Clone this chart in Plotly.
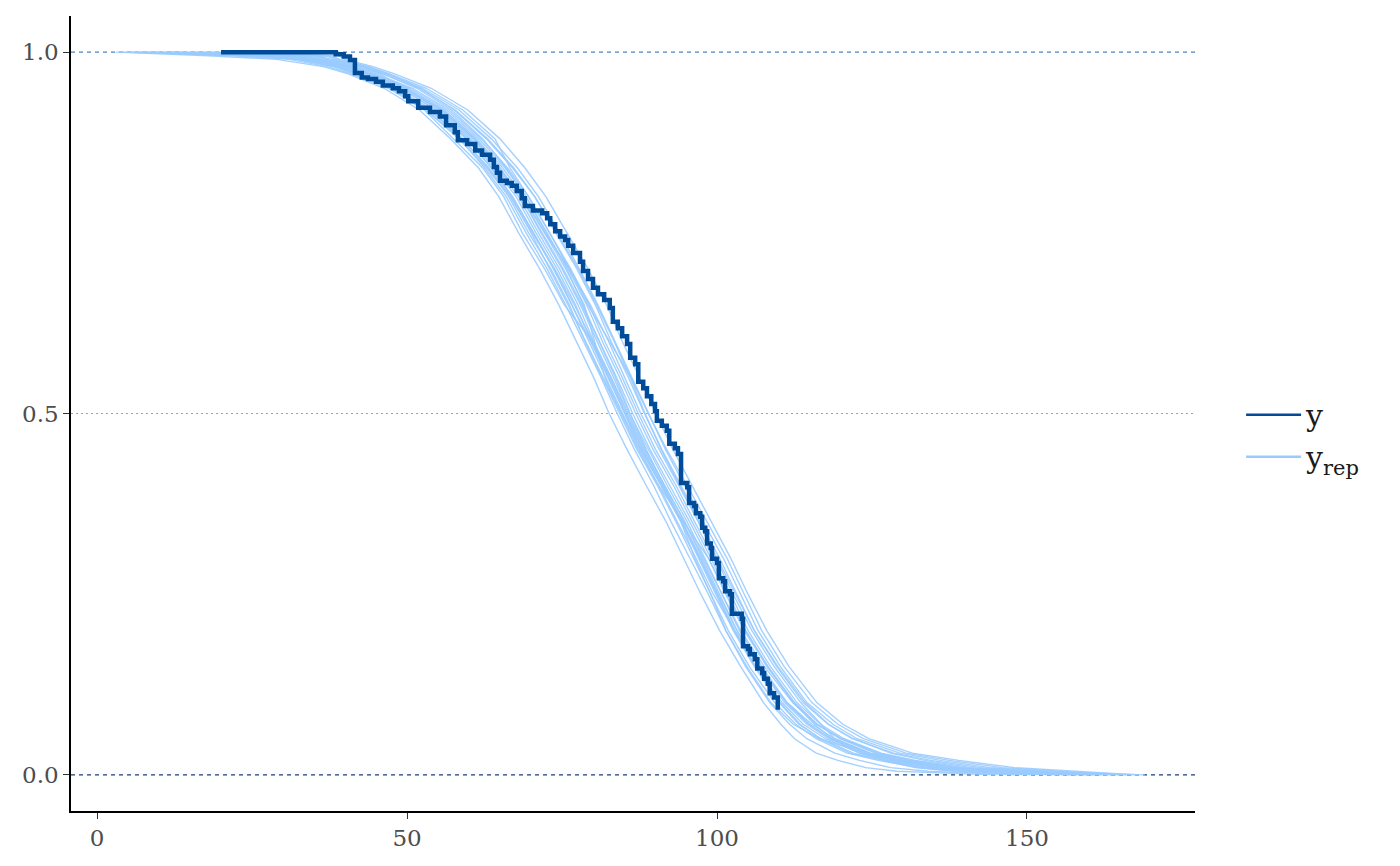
import plotly.graph_objects as go

# Observed Kaplan-Meier curve (y): step times and survival after each step
y_time = [20.0, 38.5, 39.8, 40.8, 41.6, 42.7, 43.7, 45.0, 46.1, 47.7, 48.7, 49.7, 50.2, 51.8,
          53.7, 55.3, 56.3, 57.7, 58.2, 59.7, 61.0, 62.1, 63.4, 64.0, 64.5, 65.0, 66.1, 66.9,
          67.7, 68.5, 69.0, 70.3, 71.8, 72.6, 73.1, 73.9, 74.7, 75.5, 76.0, 76.8, 77.9, 78.4,
          79.2, 80.0, 80.8, 81.8, 82.7, 83.2, 84.0, 84.7, 85.5, 86.0, 86.8, 87.3, 88.1, 88.7,
          89.4, 90.0, 90.3, 91.1, 91.9, 92.3, 93.2, 93.7, 94.2, 95.2, 95.5, 96.3, 96.6, 97.3,
          97.6, 98.1, 98.4, 99.0, 99.2, 100.0, 100.3, 101.0, 101.3, 102.1, 102.4, 104.0, 104.2,
          105.0, 105.3, 106.1, 106.5, 107.3, 107.6, 108.2, 108.5, 109.2, 109.8]
y_surv = [1.0, 0.997, 0.994, 0.989, 0.971, 0.965, 0.963, 0.959, 0.954, 0.950, 0.946, 0.939,
          0.932, 0.923, 0.917, 0.911, 0.899, 0.889, 0.878, 0.873, 0.864, 0.858, 0.851, 0.841,
          0.833, 0.822, 0.819, 0.815, 0.808, 0.798, 0.787, 0.781, 0.777, 0.770, 0.762, 0.752,
          0.745, 0.740, 0.732, 0.722, 0.710, 0.697, 0.686, 0.674, 0.665, 0.657, 0.646, 0.627,
          0.618, 0.607, 0.596, 0.577, 0.568, 0.544, 0.535, 0.524, 0.513, 0.503, 0.490, 0.483,
          0.476, 0.458, 0.452, 0.444, 0.404, 0.398, 0.376, 0.372, 0.362, 0.357, 0.342, 0.337,
          0.320, 0.314, 0.299, 0.293, 0.272, 0.268, 0.254, 0.250, 0.223, 0.216, 0.178, 0.174,
          0.167, 0.160, 0.147, 0.141, 0.133, 0.126, 0.113, 0.107, 0.090]

# Replicated curves (y_rep): survival levels and the time at which each replicate reaches them
rep_levels = [1.0, 0.995, 0.99, 0.98, 0.97, 0.95, 0.92, 0.88, 0.84, 0.80, 0.75, 0.70, 0.65,
              0.60, 0.55, 0.50, 0.45, 0.40, 0.35, 0.30, 0.25, 0.20, 0.15, 0.10, 0.07, 0.05,
              0.03, 0.02, 0.01, 0.005, 0.0]
rep_01 = [3, 18, 29, 36.5, 40.5, 46.3, 52.0, 57.0, 61.5, 64.8, 68.0, 71.4, 74.5, 77.3, 80.1, 82.6, 85.5, 88.6, 91.8, 94.6, 97.4, 100.4, 103.8, 107.5, 110.3, 112.5, 116.0, 119.5, 124.0, 129.0, 145.0]
rep_02 = [6, 22, 31, 37.2, 41.0, 47.0, 52.8, 57.5, 62.2, 65.6, 68.6, 72.2, 75.4, 79.9, 82.5, 85.1, 87.7, 91.0, 94.2, 96.4, 99.0, 101.4, 104.6, 108.5, 111.7, 114.5, 119.0, 123.0, 128.0, 134.0, 148.0]
rep_03 = [4, 26, 32, 38.0, 41.5, 47.5, 53.0, 58.5, 62.5, 66.0, 69.2, 72.6, 75.6, 78.5, 81.3, 83.9, 86.7, 89.8, 92.6, 95.6, 98.6, 101.4, 104.8, 108.7, 112.3, 116.5, 124.0, 129.0, 135.0, 141.0, 156.0]
rep_04 = [9, 24, 33, 38.4, 42.0, 47.7, 53.8, 59.0, 63.0, 66.4, 69.6, 73.2, 76.2, 78.7, 81.5, 84.3, 87.1, 90.4, 93.4, 96.2, 99.0, 101.8, 105.2, 109.3, 112.7, 116.0, 121.0, 126.0, 132.5, 139.0, 155.0]
rep_05 = [5, 27, 33.5, 39.0, 42.6, 48.3, 54.2, 59.6, 63.6, 67.0, 70.4, 73.8, 76.6, 79.3, 82.1, 84.7, 87.5, 90.6, 94.6, 98.6, 101.6, 104.6, 108.2, 112.3, 115.7, 118.6, 123.0, 127.5, 133.0, 140.0, 150.0]
rep_06 = [12, 29, 34.0, 39.5, 43.0, 48.9, 54.8, 60.0, 64.0, 67.6, 70.8, 74.2, 77.2, 79.7, 82.7, 85.3, 88.1, 91.2, 94.4, 97.2, 100.0, 102.8, 106.2, 110.5, 113.9, 117.5, 123.0, 128.0, 134.0, 141.0, 158.0]
rep_07 = [7, 30, 34.6, 40.0, 43.4, 49.3, 55.2, 60.2, 64.4, 68.0, 71.2, 74.6, 77.6, 80.1, 82.9, 85.5, 88.3, 91.6, 94.8, 97.6, 100.4, 103.2, 106.8, 110.9, 114.5, 118.0, 123.5, 128.5, 135.5, 142.0, 160.0]
rep_08 = [10, 31, 35.0, 40.3, 43.8, 49.7, 55.6, 60.8, 64.8, 68.4, 71.6, 75.0, 78.0, 80.7, 83.3, 85.9, 88.9, 92.0, 95.2, 98.0, 100.8, 103.6, 107.2, 111.3, 114.9, 118.4, 124.0, 129.0, 136.0, 143.0, 162.0]
rep_09 = [15, 32, 35.6, 40.8, 44.2, 50.1, 56.0, 61.2, 65.4, 68.8, 72.2, 75.6, 78.6, 80.3, 81.9, 84.5, 87.3, 90.6, 93.6, 96.6, 99.4, 102.8, 106.8, 111.3, 115.3, 119.0, 124.8, 130.0, 137.0, 145.0, 165.0]
rep_10 = [8, 33, 36.0, 41.2, 44.6, 50.5, 56.4, 61.6, 65.8, 69.2, 72.4, 76.0, 79.0, 81.5, 84.3, 86.9, 89.7, 93.0, 96.0, 99.0, 101.8, 104.6, 108.2, 112.5, 116.1, 119.8, 125.5, 131.0, 138.5, 146.0, 157.0]
rep_11 = [14, 34, 36.5, 41.5, 45.0, 50.9, 56.8, 62.0, 66.2, 69.6, 73.0, 76.4, 79.4, 81.9, 84.7, 87.3, 90.1, 93.4, 96.4, 99.4, 102.2, 105.0, 108.6, 112.9, 116.7, 120.5, 126.5, 132.0, 140.0, 148.0, 163.0]
rep_12 = [11, 35, 37.0, 42.0, 45.6, 49.5, 55.4, 60.6, 64.6, 68.6, 72.2, 76.2, 79.6, 82.5, 85.1, 87.7, 90.7, 93.8, 97.0, 99.8, 102.6, 105.6, 109.2, 113.5, 116.9, 119.0, 124.5, 130.0, 137.0, 146.0, 167.0]
rep_13 = [17, 36, 37.6, 42.5, 46.0, 51.9, 57.8, 63.0, 67.2, 70.6, 74.0, 77.4, 80.4, 82.9, 85.7, 88.3, 91.1, 94.2, 97.4, 100.4, 103.2, 106.0, 109.6, 113.9, 117.9, 121.8, 128.5, 134.5, 142.5, 151.0, 160.0]
rep_14 = [13, 37, 38.4, 43.0, 46.6, 52.5, 58.4, 63.6, 67.8, 71.2, 74.6, 77.8, 80.8, 83.5, 86.3, 88.9, 91.7, 94.8, 97.8, 101.0, 103.8, 106.6, 110.2, 114.5, 118.7, 122.6, 129.5, 136.0, 144.0, 153.0, 169.0]
rep_15 = [19, 38, 39.0, 43.8, 47.2, 53.1, 59.0, 64.2, 66.6, 69.6, 73.0, 76.2, 79.2, 82.7, 86.1, 88.9, 91.9, 95.2, 98.4, 101.6, 104.4, 107.2, 110.8, 115.3, 119.5, 123.6, 130.5, 137.5, 146.0, 155.0, 166.0]
rep_16 = [16, 39, 40.0, 44.5, 48.0, 53.9, 59.8, 65.0, 69.0, 72.4, 75.8, 79.2, 82.2, 84.7, 87.5, 90.1, 92.9, 96.0, 99.2, 102.2, 105.0, 108.0, 111.6, 116.1, 120.3, 124.5, 131.5, 139.0, 148.0, 158.0, 168.0]
rep_17 = [5, 25, 32.5, 38.8, 42.2, 47.4, 53.2, 58.4, 62.8, 66.6, 70.2, 73.8, 77.0, 80.0, 82.9, 85.7, 88.5, 91.6, 94.8, 97.8, 100.8, 103.8, 107.6, 112.2, 116.0, 120.0, 126.0, 131.5, 139.0, 147.0, 159.0]
rep_18 = [18, 35, 37.8, 42.8, 46.2, 51.6, 57.2, 62.2, 66.0, 69.2, 72.6, 75.8, 78.4, 81.0, 83.6, 86.0, 88.6, 91.4, 94.4, 97.2, 100.0, 102.8, 106.2, 110.2, 113.4, 116.6, 121.5, 126.5, 132.0, 138.0, 151.0]
rep_19 = [9, 30, 34.8, 40.6, 44.0, 49.8, 55.8, 61.0, 65.0, 68.4, 71.8, 75.2, 78.2, 81.0, 83.8, 86.4, 89.2, 92.4, 95.6, 98.6, 101.4, 104.4, 108.0, 112.4, 116.2, 120.2, 126.0, 131.0, 137.5, 144.0, 161.0]
rep_20 = [7, 28, 33.0, 38.9, 42.4, 48.0, 53.6, 58.8, 63.2, 66.8, 70.0, 73.0, 76.0, 78.8, 81.6, 84.6, 87.8, 91.0, 94.2, 97.0, 99.8, 102.6, 106.0, 110.0, 113.2, 116.8, 122.0, 127.0, 134.0, 141.0, 154.0]
rep_21 = [20, 37, 39.2, 43.6, 47.0, 52.2, 57.6, 62.8, 67.0, 70.6, 74.2, 77.6, 80.6, 83.4, 86.0, 88.4, 91.0, 94.0, 97.0, 100.0, 103.0, 106.0, 109.8, 114.2, 118.0, 122.0, 128.0, 133.5, 141.0, 149.0, 164.0]
rep_22 = [12, 31, 35.2, 40.2, 43.6, 49.0, 54.6, 59.6, 63.6, 67.0, 70.4, 73.6, 76.6, 79.6, 82.4, 85.2, 88.0, 91.2, 94.4, 97.4, 100.2, 103.2, 106.8, 111.2, 114.8, 118.4, 124.5, 130.0, 136.5, 144.0, 158.0]
rep_times = [rep_01, rep_02, rep_03, rep_04, rep_05, rep_06, rep_07, rep_08, rep_09, rep_10, rep_11,
             rep_12, rep_13, rep_14, rep_15, rep_16, rep_17, rep_18, rep_19, rep_20, rep_21, rep_22]

x_ticks = [0, 50, 100, 150]
y_ticks = [0.0, 0.5, 1.0]
y_tick_labels = ["0.0", "0.5", "1.0"]

DARK = "#004c99"
LIGHT = "rgba(153,203,255,0.9)"
FONT = "DejaVu Serif"

fig = go.Figure()

for t in rep_times:
    fig.add_trace(go.Scatter(x=t, y=rep_levels, mode="lines",
                             line=dict(color=LIGHT, width=1.4),
                             showlegend=False, hoverinfo="skip"))

fig.add_trace(go.Scatter(x=y_time, y=y_surv, mode="lines",
                         line=dict(color=DARK, width=4.5, shape="hv"),
                         showlegend=False))

# legend entries
fig.add_trace(go.Scatter(x=[None], y=[None], mode="lines", name="y",
                         line=dict(color=DARK, width=2.5), legendrank=1))
fig.add_trace(go.Scatter(x=[None], y=[None], mode="lines", name="y<sub>rep</sub>",
                         line=dict(color="#99cbff", width=2.5), legendrank=2))

shapes = [
    dict(type="line", xref="paper", x0=0, x1=1, yref="y", y0=1.0, y1=1.0,
         line=dict(color="#4f84c4", width=1.1, dash="4px,4px"), layer="below"),
    dict(type="line", xref="paper", x0=0, x1=1, yref="y", y0=0.5, y1=0.5,
         line=dict(color="#8fa3bf", width=1, dash="2px,3px"), layer="below"),
    dict(type="line", xref="paper", x0=0, x1=1, yref="y", y0=0.0, y1=0.0,
         line=dict(color="#183f7a", width=1.1, dash="4px,4px"), layer="below"),
]

fig.update_layout(
    width=1400, height=866,
    margin=dict(l=63, r=213, t=8, b=63),
    paper_bgcolor="white", plot_bgcolor="white",
    font=dict(family=FONT, color="#4d4d4d", size=23),
    shapes=shapes,
    legend=dict(x=1.041, y=0.472, xanchor="left", yanchor="middle",
                font=dict(family=FONT, size=30, color="#1a1a1a"),
                itemwidth=55, bgcolor="rgba(0,0,0,0)", tracegroupgap=4),
    xaxis=dict(range=[-4.2, 177.1], tickvals=x_ticks, showgrid=False, zeroline=False,
               showline=True, linecolor="black", linewidth=1.6,
               ticks="outside", ticklen=6, tickcolor="#333333", tickwidth=1.2,
               tickfont=dict(family=FONT, size=23, color="#4d4d4d")),
    yaxis=dict(range=[-0.05, 1.05], tickvals=y_ticks, ticktext=y_tick_labels,
               showgrid=False, zeroline=False,
               showline=True, linecolor="black", linewidth=1.6,
               ticks="outside", ticklen=6, tickcolor="#333333", tickwidth=1.2,
               tickfont=dict(family=FONT, size=23, color="#4d4d4d")),
)

fig.write_html("out.html")
